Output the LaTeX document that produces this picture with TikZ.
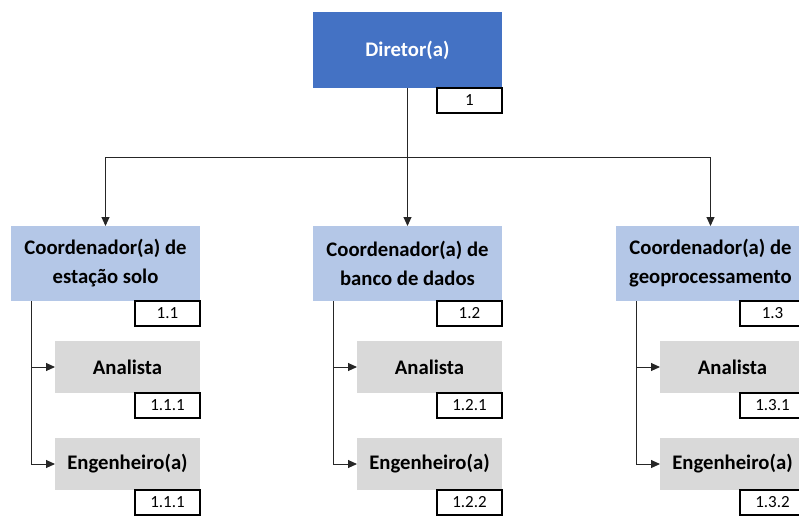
\documentclass[tikz,border=0pt]{standalone}
\usepackage{fontspec}
\setmainfont{Carlito}
\usetikzlibrary{arrows.meta,calc}
\definecolor{dirblue}{HTML}{4472C4}
\definecolor{coordblue}{HTML}{B4C7E7}
\definecolor{childgray}{HTML}{D9D9D9}
\tikzset{
  boxfont/.style={font=\bfseries\fontsize{20.7}{29}\selectfont},
  dirbox/.style={boxfont, fill=dirblue, text=white,
    minimum width=189pt, minimum height=76pt, inner sep=0pt, outer sep=0pt},
  coordbox/.style={boxfont, fill=coordblue, text=black, align=center,
    minimum width=189pt, minimum height=75pt, inner sep=0pt, outer sep=0pt},
  childbox/.style={boxfont, fill=childgray, text=black,
    minimum width=145pt, minimum height=52pt, inner sep=0pt, outer sep=0pt},
  numbox/.style={draw=black, line width=1.2pt, fill=white, font=\fontsize{17}{20}\selectfont,
    minimum width=65pt, minimum height=25pt, inner sep=0pt, outer sep=0pt},
  link/.style={draw=black!85, line width=1pt, -{Triangle[length=9pt,width=8pt]}},
}
\begin{document}
\begin{tikzpicture}[x=1pt,y=-1pt]
\useasboundingbox (0,0) rectangle (799,515);
\clip (0,0) rectangle (799,515);

% top level
\node[dirbox] (dir) at (407.5,50) {Diretor(a)};
\node[numbox] (ndir) at (469.5,100.5) {1};
\coordinate (bus) at (407.5,157);

% coordinators
\node[coordbox] (c1) at (105.5,263.5) {Coordenador(a) de\\estação solo};
\node[coordbox] (c2) at (407.5,263.5) {Coordenador(a) de\\banco de dados};
\node[coordbox] (c3) at (710.5,263.5) {Coordenador(a) de\\geoprocessamento};
\node[numbox] (n1) at (167.5,313.5) {1.1};
\node[numbox] (n2) at (469.5,313.5) {1.2};
\node[numbox] (n3) at (772.5,313.5) {1.3};

% staff under each coordinator
\foreach \i/\l in {1/11,2/313,3/616}{
  \node[childbox] (a\i) at (\l+116.5,367) {Analista};
  \node[childbox] (e\i) at (\l+116.5,464) {Engenheiro(a)};
  \coordinate (v\i) at (\l+20,301);
}
\node[numbox] (na1) at (167.5,405.5) {1.1.1};
\node[numbox] (ne1) at (167.5,502.5) {1.1.1};
\node[numbox] (na2) at (469.5,405.5) {1.2.1};
\node[numbox] (ne2) at (469.5,502.5) {1.2.2};
\node[numbox] (na3) at (772.5,405.5) {1.3.1};
\node[numbox] (ne3) at (772.5,502.5) {1.3.2};

% connectors
\draw[draw=black!85, line width=1pt] (dir.south) -- (bus);
\draw[link] (bus) -| (c1.north);
\draw[link] (bus) -- (c2.north);
\draw[link] (bus) -| (c3.north);
\foreach \i in {1,2,3}{
  \draw[link] (v\i) |- (a\i.west);
  \draw[link] (v\i) |- (e\i.west);
}
\end{tikzpicture}
\end{document}
